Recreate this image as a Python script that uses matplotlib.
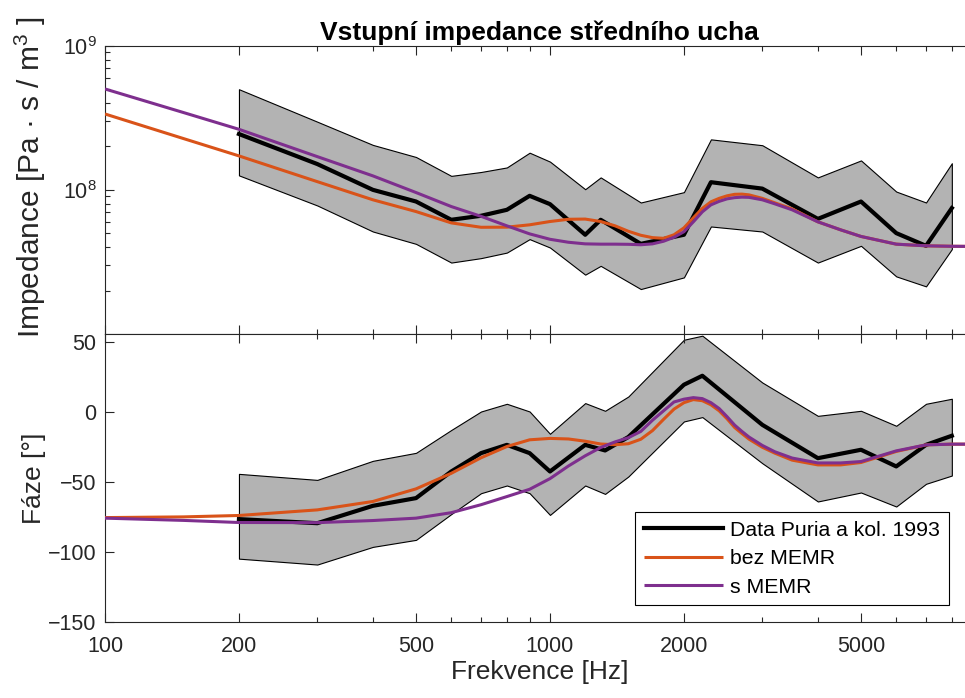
import matplotlib
matplotlib.use("Agg")
import matplotlib.pyplot as plt
from matplotlib.ticker import FixedLocator, FixedFormatter, LogLocator, NullFormatter

plt.rcParams['font.family'] = ['Liberation Sans', 'DejaVu Sans']
plt.rcParams['mathtext.fontset'] = 'custom'
plt.rcParams['mathtext.rm'] = 'Liberation Sans'
plt.rcParams['mathtext.it'] = 'Liberation Sans:italic'
plt.rcParams['mathtext.bf'] = 'Liberation Sans:bold'

# ---------------- data ----------------
# Puria et al. 1993 - impedance magnitude
imp_freq = [200, 300, 400, 500, 600, 700, 800, 900, 1000, 1200, 1300, 1600, 2000, 2300,
            3000, 4000, 5000, 6000, 7000, 8000]
imp_mean = [2.44e8, 1.51e8, 1.00e8, 8.30e7, 6.20e7, 6.61e7, 7.27e7, 9.09e7, 7.96e7, 4.88e7,
            6.20e7, 4.22e7, 4.88e7, 1.13e8, 1.02e8, 6.29e7, 8.30e7, 5.01e7, 4.09e7, 7.47e7]
imp_upper = [4.99e8, 2.97e8, 2.05e8, 1.69e8, 1.25e8, 1.33e8, 1.43e8, 1.81e8, 1.57e8, 1.01e8,
             1.22e8, 8.17e7, 9.64e7, 2.24e8, 2.04e8, 1.22e8, 1.60e8, 9.73e7, 8.17e7, 1.53e8]
imp_lower = [1.26e8, 7.79e7, 5.14e7, 4.22e7, 3.13e7, 3.36e7, 3.67e7, 4.55e7, 3.98e7, 2.58e7,
             2.97e7, 2.05e7, 2.47e7, 5.57e7, 5.14e7, 3.13e7, 4.09e7, 2.51e7, 2.14e7, 3.88e7]

# Puria et al. 1993 - phase
ph_freq = [200, 300, 400, 500, 600, 700, 800, 900, 1000, 1200, 1330, 1500, 2000, 2200,
           3000, 4000, 5000, 6000, 7000, 8000]
ph_mean = [-76.6, -79.5, -67.1, -61.6, -42.6, -29.5, -23.6, -29.5, -42.6, -23.6,
           -27.6, -18.0, 19.3, 25.7, -9.3, -33.1, -27.1, -39.0, -23.6, -17.1]
ph_upper = [-44.3, -48.6, -35.0, -29.3, -13.0, 0.2, 5.7, 0.2, -15.7, 6.2,
            0.7, 10.9, 51.4, 54.3, 20.9, -2.9, 0.7, -10.0, 5.7, 9.3]
ph_lower = [-104.8, -109.0, -96.4, -91.4, -73.0, -58.1, -52.6, -58.1, -73.6, -52.6,
            -58.6, -46.2, -6.9, -3.8, -36.7, -64.0, -57.6, -67.6, -51.4, -45.5]

# model curves
model_freq = [100, 150, 200, 300, 400, 500, 600, 700, 800, 900, 1000, 1100, 1200, 1300,
              1400, 1500, 1600, 1700, 1800, 1900, 2000, 2100, 2200, 2300, 2400, 2500,
              2600, 2700, 2800, 3000, 3200, 3500, 4000, 4500, 5000, 6000, 7000, 8000, 9000]
imp_bez = [3.36e8, 2.27e8, 1.72e8, 1.14e8, 8.53e7, 7.07e7, 5.90e7, 5.50e7, 5.51e7, 5.72e7,
           6.03e7, 6.25e7, 6.27e7, 6.03e7, 5.63e7, 5.16e7, 4.84e7, 4.66e7, 4.61e7, 4.88e7,
           5.45e7, 6.40e7, 7.44e7, 8.26e7, 8.73e7, 9.09e7, 9.31e7, 9.34e7, 9.23e7, 8.73e7,
           8.13e7, 7.38e7, 6.00e7, 5.28e7, 4.75e7, 4.20e7, 4.09e7, 4.06e7, 4.05e7]
imp_s = [5.01e8, 3.44e8, 2.63e8, 1.70e8, 1.25e8, 9.58e7, 7.66e7, 6.55e7, 5.63e7, 4.95e7,
         4.54e7, 4.33e7, 4.22e7, 4.20e7, 4.20e7, 4.19e7, 4.16e7, 4.22e7, 4.40e7, 4.69e7,
         5.12e7, 6.00e7, 7.04e7, 7.87e7, 8.32e7, 8.66e7, 8.83e7, 8.90e7, 8.87e7, 8.53e7,
         8.00e7, 7.27e7, 6.00e7, 5.28e7, 4.75e7, 4.20e7, 4.09e7, 4.06e7, 4.05e7]
ph_bez = [-75.5, -75.0, -74.0, -70.0, -64.0, -55.0, -43.9, -32.8, -24.8, -20.0,
          -19.0, -19.4, -21.0, -23.0, -23.5, -22.8, -19.6, -13.4, -5.4, 1.9,
          6.5, 8.7, 7.9, 5.0, 0.7, -5.0, -11.2, -15.5, -19.5, -25.3,
          -29.5, -34.5, -37.9, -37.9, -36.2, -28.3, -23.6, -23.1, -23.1]
ph_s = [-75.9, -77.5, -79.0, -79.1, -77.6, -75.9, -72.0, -66.3, -60.5, -55.3,
        -47.7, -38.7, -31.4, -25.5, -21.5, -18.5, -14.0, -6.0, 0.7, 7.0,
        9.0, 10.1, 9.4, 6.5, 2.3, -3.5, -9.5, -14.0, -18.0, -24.0,
        -28.5, -33.0, -36.5, -36.5, -35.5, -27.9, -23.6, -23.1, -23.1]

xticks = [100, 200, 500, 1000, 2000, 5000]
xticklabels = ['100', '200', '500', '1000', '2000', '5000']
phase_ticks = [-150, -100, -50, 0, 50]

labels = ['Data Puria a kol. 1993', 'bez MEMR', 's MEMR']

# ---------------- style ----------------
C_BEZ = '#D95319'
C_S = '#7E2F8E'
C_FILL = '#B3B3B3'
C_AX = '#262626'

fig = plt.figure(figsize=(9.65, 6.98), dpi=100)
L = 105 / 965
W = (974.6 - 105) / 965
ax1 = fig.add_axes([L, 1 - 334 / 698, W, (334 - 45.7) / 698])
ax2 = fig.add_axes([L, 1 - 622 / 698, W, (622 - 334) / 698], sharex=ax1)

line_kw = dict(solid_joinstyle='round', solid_capstyle='butt')

# top: impedance
ax1.fill_between(imp_freq, imp_lower, imp_upper, facecolor=C_FILL, edgecolor='black', linewidth=0.8, zorder=1)
l1, = ax1.plot(imp_freq, imp_mean, color='black', linewidth=3.0, zorder=3)
l2, = ax1.plot(model_freq, imp_bez, color=C_BEZ, linewidth=2.2, zorder=4, **line_kw)
l3, = ax1.plot(model_freq, imp_s, color=C_S, linewidth=2.2, zorder=5, **line_kw)
ax1.set_xscale('log')
ax1.set_yscale('log')
ax1.set_ylim(1e7, 1e9)
ax1.yaxis.set_major_locator(FixedLocator([1e8, 1e9]))
ax1.yaxis.set_minor_locator(LogLocator(base=10, subs=range(2, 10)))
ax1.yaxis.set_minor_formatter(NullFormatter())
ax1.set_ylabel('Impedance [Pa · s / m$^{\\mathrm{3}}$ ]', fontsize=21.5, color=C_AX)
ax1.set_title('Vstupní impedance středního ucha', fontsize=19, fontweight='bold', pad=4)

# bottom: phase
ax2.fill_between(ph_freq, ph_lower, ph_upper, facecolor=C_FILL, edgecolor='black', linewidth=0.8, zorder=1)
ax2.plot(ph_freq, ph_mean, color='black', linewidth=3.0, zorder=3)
ax2.plot(model_freq, ph_bez, color=C_BEZ, linewidth=2.2, zorder=4, **line_kw)
ax2.plot(model_freq, ph_s, color=C_S, linewidth=2.2, zorder=5, **line_kw)
ax2.set_ylim(-150, 55.5)
ax2.yaxis.set_major_locator(FixedLocator(phase_ticks))
ax2.set_ylabel('Fáze [°]', fontsize=19, color=C_AX)
ax2.set_xlabel('Frekvence [Hz]', fontsize=19, color=C_AX, labelpad=2)

ax2.set_xlim(100, 9000)
ax2.xaxis.set_major_locator(FixedLocator(xticks))
ax2.xaxis.set_major_formatter(FixedFormatter(xticklabels))
ax2.xaxis.set_minor_locator(LogLocator(base=10, subs=range(2, 10)))
ax2.xaxis.set_minor_formatter(NullFormatter())
plt.setp(ax1.get_xticklabels(), visible=False)

for ax in (ax1, ax2):
    for sp in ax.spines.values():
        sp.set_color(C_AX)
        sp.set_linewidth(0.8)
    ax.tick_params(which='both', direction='in', top=True, right=True, color=C_AX,
                   labelcolor=C_AX, labelsize=15.5, width=0.8)
    ax.tick_params(which='major', length=6.5)
    ax.tick_params(which='minor', length=3.5)
    ax.tick_params(axis='y', pad=6)
ax2.tick_params(axis='x', pad=10)
ax1.yaxis.set_label_coords(-0.066, 0.545)
ax2.yaxis.set_label_coords(-0.068, 0.5)

leg = fig.legend([l1, l2, l3], labels, loc='upper left',
                 bbox_to_anchor=(635 / 965, 1 - 512 / 698), fontsize=15.3,
                 frameon=True, fancybox=False, framealpha=1, edgecolor='black',
                 handlelength=3.75, handletextpad=0.33, labelspacing=0.45,
                 borderpad=0.4, borderaxespad=0)
leg.get_frame().set_linewidth(0.8)

fig.savefig('out.png', dpi=100)
